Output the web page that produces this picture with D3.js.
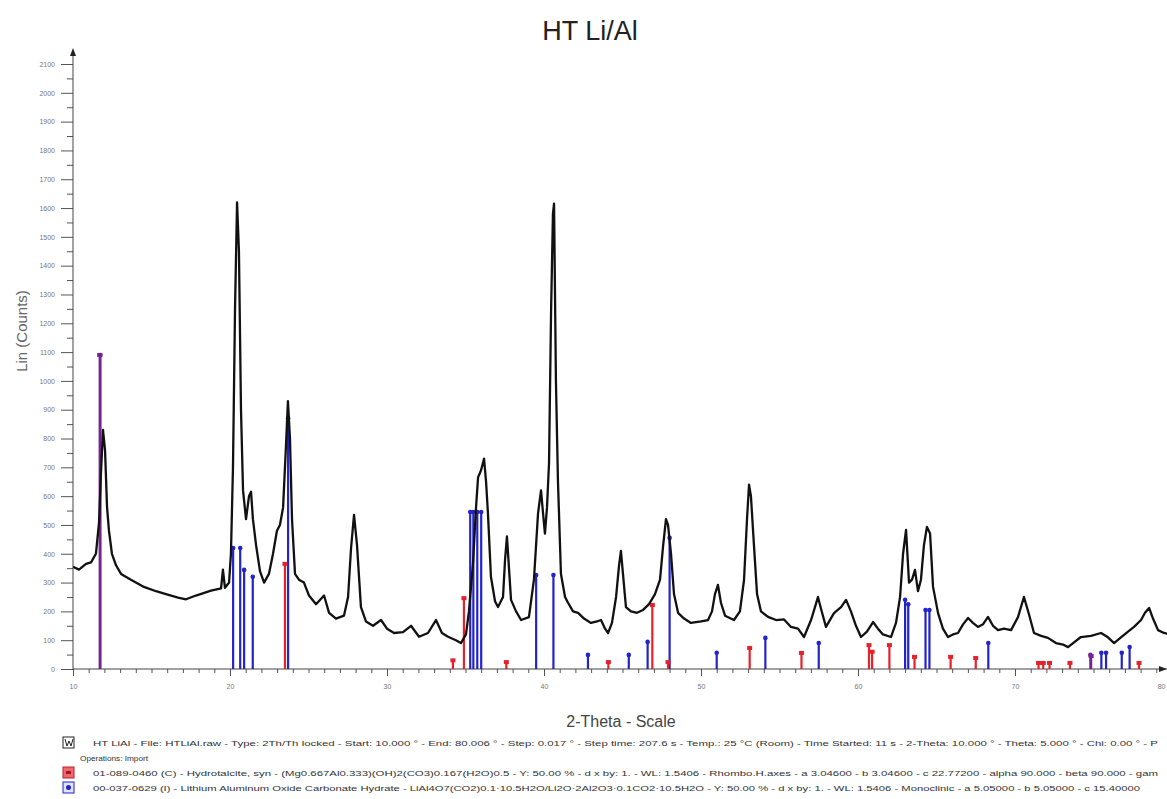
<!DOCTYPE html>
<html>
<head>
<meta charset="utf-8">
<script src="https://cdn.jsdelivr.net/npm/d3@7"></script>
<style>
  body { margin: 0; background: #fff; }
  svg { display: block; font-family: "Liberation Sans", Arial, sans-serif; }
</style>
</head>
<body>
<div id="xrd"></div>
<script>
// Measured pattern (2-theta in degrees, counts)
var twoTheta = [10.0,10.38,10.83,11.15,11.46,11.66,11.78,11.91,12.04,12.17,12.29,12.48,12.74,13.06,13.69,14.52,15.29,15.92,16.69,17.2,17.83,18.79,19.43,19.55,19.68,19.94,
  20.06,20.19,20.32,20.45,20.57,20.7,20.83,21.02,21.21,21.34,21.46,21.66,21.91,22.17,22.48,22.74,22.99,23.18,23.38,23.57,23.69,23.82,23.95,24.14,24.39,24.71,25.03,25.48,25.99,26.31,26.75,27.26,27.52,27.71,27.9,28.09,28.34,28.66,29.11,29.62,
  30.0,30.45,31.02,31.53,32.04,32.61,33.12,33.5,33.89,34.39,34.71,35.03,35.22,35.48,35.67,35.8,35.99,36.18,36.31,36.43,36.62,36.88,37.07,37.39,37.52,37.64,37.77,37.9,38.22,38.54,39.04,39.36,39.62,39.81,39.94,
  40.06,40.19,40.32,40.45,40.57,40.64,40.76,40.89,41.08,41.34,41.53,41.85,42.17,42.55,42.99,43.38,43.63,43.89,44.08,44.33,44.59,44.78,44.9,45.03,45.22,45.54,45.92,46.31,46.69,47.07,47.39,47.58,47.77,47.9,48.09,48.28,48.54,48.92,49.36,
  50.0,50.45,50.7,50.89,51.08,51.27,51.53,52.1,52.48,52.74,52.93,53.06,53.18,53.38,53.57,53.82,54.27,54.78,55.29,55.73,56.18,56.56,57.01,57.26,57.45,57.64,57.96,58.47,58.92,59.24,59.55,59.87,
  60.19,60.57,60.96,61.27,61.59,62.1,62.42,62.68,62.87,63.06,63.25,63.44,63.63,63.82,64.01,64.2,64.39,64.59,64.78,65.1,65.41,65.73,66.05,66.37,66.69,67.01,67.32,67.64,67.96,68.28,68.6,68.92,69.3,69.75,
  70.19,70.57,70.89,71.21,71.66,72.1,72.61,73.06,73.38,73.82,74.2,74.84,75.48,75.92,76.31,76.75,77.2,77.58,78.03,78.28,78.54,78.79,79.11,79.49,79.94];
var counts = [355,345,365,370,400,510,680,830,760,560,480,400,360,330,310,285,270,260,248,242,255,272,280,345,282,300,
  400,700,1250,1620,1450,900,620,520,600,615,520,430,340,300,330,400,480,500,560,780,930,800,520,330,310,300,255,225,255,195,175,185,250,420,535,430,215,165,150,170,
  140,125,128,150,112,125,170,125,112,100,90,120,200,370,560,665,690,730,650,540,320,235,215,250,380,460,350,240,200,170,180,310,540,620,540,
  470,560,715,1240,1580,1615,1000,650,330,250,230,200,195,175,160,165,170,140,125,160,250,360,410,330,215,200,195,205,225,260,310,424,520,500,400,260,195,175,160,
  165,170,200,260,292,230,185,170,200,309,520,640,600,424,260,200,181,170,172,146,140,111,170,215,250,210,146,194,215,240,200,150,
  111,130,163,140,120,111,160,250,400,483,300,310,344,270,310,430,493,470,285,194,140,111,120,125,155,177,160,146,155,181,150,135,140,135,
  180,250,190,125,115,108,90,85,76,95,111,115,125,110,90,110,130,146,170,195,212,175,135,125,120];

// Reference patterns (stick positions and relative heights in counts)
var hydroPos = [11.7,23.5,34.2,34.9,37.6,44.1,46.9,47.9,53.1,56.4,60.7,60.9,62.0,63.6,65.9,67.5,71.5,71.8,72.2,73.5,74.85,77.9];
var hydroCounts = [1090,365,30,246,24,24,222,24,73,56,83,60,83,42,42,38,21,21,21,21,45,21];
var liAlPos = [11.75,20.2,20.65,20.9,21.45,23.7,35.3,35.5,35.75,36.0,39.5,40.6,42.8,45.4,46.6,48.0,51.0,54.1,57.5,63.0,63.2,64.3,64.55,68.3,74.8,75.5,75.8,76.8,77.3];
var liAlCounts = [1090,420,420,344,320,870,545,545,545,545,326,326,49,49,94,455,56,108,90,240,225,205,205,90,49,56,56,56,76];

var yTicks = d3.range(0, 2101, 100);
var xTicks = [10, 20, 30, 40, 50, 60, 70, 80];

var legendLines = [
  "HT LiAl - File: HTLiAl.raw - Type: 2Th/Th locked - Start: 10.000 \u00b0 - End: 80.006 \u00b0 - Step: 0.017 \u00b0 - Step time: 207.6 s - Temp.: 25 \u00b0C (Room) - Time Started: 11 s - 2-Theta: 10.000 \u00b0 - Theta: 5.000 \u00b0 - Chi: 0.00 \u00b0 - P",
  "Operations: Import",
  "01-089-0460 (C) - Hydrotalcite, syn - (Mg0.667Al0.333)(OH)2(CO3)0.167(H2O)0.5 - Y: 50.00 % - d x by: 1. - WL: 1.5406 - Rhombo.H.axes - a 3.04600 - b 3.04600 - c 22.77200 - alpha 90.000 - beta 90.000 - gam",
  "00-037-0629 (I) - Lithium Aluminum Oxide Carbonate Hydrate - LiAl4O7(CO2)0.1\u00b710.5H2O/Li2O\u00b72Al2O3\u00b70.1CO2\u00b710.5H2O - Y: 50.00 % - d x by: 1. - WL: 1.5406 - Monoclinic - a 5.05000 - b 5.05000 - c 15.40000"
];

var W = 1167, H = 799;
var red = "#e3222b", blue = "#2323c8", mixed = "#74238f";

var svg = d3.select("#xrd").append("svg")
    .attr("width", W)
    .attr("height", H);

var x = d3.scaleLinear().domain([10, 80]).range([73, 1172]);
var y = d3.scaleLinear().domain([0, 2100]).range([669, 64]);

svg.append("clipPath").attr("id", "clip")
  .append("rect").attr("x", 73).attr("y", 40).attr("width", W - 73).attr("height", 630);

// Title and axis titles
svg.append("text")
    .attr("x", 590).attr("y", 40)
    .attr("text-anchor", "middle")
    .attr("font-size", 27)
    .attr("fill", "#222")
    .text("HT Li/Al");

svg.append("text")
    .attr("transform", "translate(27,331) rotate(-90)")
    .attr("text-anchor", "middle")
    .attr("font-size", 15)
    .attr("fill", "#666")
    .text("Lin (Counts)");

svg.append("text")
    .attr("x", 621).attr("y", 727)
    .attr("text-anchor", "middle")
    .attr("font-size", 16)
    .attr("fill", "#444")
    .text("2-Theta - Scale");

// Y axis, major + minor ticks
var yAxis = svg.append("g")
    .attr("transform", "translate(73,0)")
    .call(d3.axisLeft(y).tickValues(yTicks).tickSize(12).tickPadding(6).tickFormat(d3.format("d")));
yAxis.select(".domain").remove();
yAxis.selectAll("text").attr("font-size", 7).attr("fill", "#777");
yAxis.selectAll("line").attr("stroke", "#555");

var yMinor = svg.append("g")
    .attr("transform", "translate(73,0)")
    .call(d3.axisLeft(y).tickValues(d3.range(50, 2100, 100)).tickSize(6).tickFormat(""));
yMinor.select(".domain").remove();
yMinor.selectAll("line").attr("stroke", "#555");

// X axis, major + minor ticks
var xAxis = svg.append("g")
    .attr("transform", "translate(0,669)")
    .call(d3.axisBottom(x).tickValues(xTicks).tickSize(7).tickPadding(8));
xAxis.select(".domain").remove();
xAxis.selectAll("text").attr("font-size", 7).attr("fill", "#777");
// last label sits on the page edge, pull it inside
xAxis.selectAll("text").filter(function(d){ return d == 80; })
    .attr("text-anchor", "end").attr("x", -7);
xAxis.selectAll("line").attr("stroke", "#555");

var xMinor = svg.append("g")
    .attr("transform", "translate(0,669)")
    .call(d3.axisBottom(x).tickValues(d3.range(11, 80, 1).filter(function(d){ return d % 10 != 0; })).tickSize(4).tickFormat(""));
xMinor.select(".domain").remove();
xMinor.selectAll("line").attr("stroke", "#555");

// axis lines with arrows
svg.append("line").attr("x1", 73).attr("x2", 73).attr("y1", 669).attr("y2", 52).attr("stroke", "#444");
svg.append("path").attr("d", "M70,56 L73,48 L76,56 Z").attr("fill", "#222");
svg.append("line").attr("x1", 73).attr("x2", 1167).attr("y1", 669).attr("y2", 669).attr("stroke", "#444");
svg.append("path").attr("d", "M1159,666 L1167,669 L1159,672 Z").attr("fill", "#222");

// Sticks: colour purple where both phases share a reflection
function stickColor(p, others, base) {
  for (var i = 0; i < others.length; i++) {
    if (Math.abs(others[i] - p) < 0.1) return mixed;
  }
  return base;
}

function drawSticks(pos, cnt, others, base, shape) {
  var g = svg.append("g").attr("clip-path", "url(#clip)");
  var data = pos.map(function(p, i){ return { p: p, c: cnt[i], col: stickColor(p, others, base) }; });
  g.selectAll("line").data(data).enter().append("line")
      .attr("x1", function(d){ return x(d.p); })
      .attr("x2", function(d){ return x(d.p); })
      .attr("y1", y(0))
      .attr("y2", function(d){ return y(d.c); })
      .attr("stroke", function(d){ return d.col; })
      .attr("stroke-width", 2.2);
  if (shape == "square") {
    g.selectAll("rect").data(data).enter().append("rect")
        .attr("x", function(d){ return x(d.p) - 2.5; })
        .attr("y", function(d){ return y(d.c) - 2; })
        .attr("width", 5).attr("height", 4)
        .attr("fill", function(d){ return d.col; });
  } else {
    g.selectAll("circle").data(data).enter().append("circle")
        .attr("cx", function(d){ return x(d.p); })
        .attr("cy", function(d){ return y(d.c); })
        .attr("r", 2.3)
        .attr("fill", function(d){ return d.col; });
  }
}

// Measured pattern
var pattern = twoTheta.map(function(t, i){ return [t, counts[i]]; });
var line = d3.line()
    .x(function(d){ return x(d[0]); })
    .y(function(d){ return y(d[1]); });

drawSticks(liAlPos, liAlCounts, hydroPos, blue, "circle");
drawSticks(hydroPos, hydroCounts, liAlPos, red, "square");

svg.append("path")
    .datum(pattern)
    .attr("clip-path", "url(#clip)")
    .attr("d", line)
    .attr("fill", "none")
    .attr("stroke", "#111")
    .attr("stroke-width", 2.3)
    .attr("stroke-linejoin", "round");

// Legend
var legY = [743, 758, 773, 788];
var legX = [93, 80, 93, 93];
var legLen = [1065, 68, 1065, 1047];

legendLines.forEach(function(t, i) {
  svg.append("text")
      .attr("x", legX[i]).attr("y", legY[i] + 2.5)
      .attr("font-size", 7)
      .attr("fill", "#333")
      .attr("textLength", legLen[i])
      .attr("lengthAdjust", "spacingAndGlyphs")
      .text(t);
});

// legend icons
var ic = svg.append("g");
ic.append("rect").attr("x", 63).attr("y", 737).attr("width", 11).attr("height", 11)
    .attr("fill", "#fff").attr("stroke", "#222");
ic.append("path").attr("d", "M65,739 L67,746 L69,741 L71,746 L73,739").attr("fill", "none").attr("stroke", "#222");
ic.append("rect").attr("x", 63).attr("y", 767).attr("width", 11).attr("height", 11)
    .attr("fill", "#e86a70").attr("stroke", "#c0202a");
ic.append("rect").attr("x", 66).attr("y", 771).attr("width", 5).attr("height", 3).attr("fill", "#b01020");
ic.append("rect").attr("x", 63).attr("y", 782).attr("width", 11).attr("height", 11)
    .attr("fill", "#dfe3ff").attr("stroke", blue);
ic.append("circle").attr("cx", 68.5).attr("cy", 787.5).attr("r", 2.5).attr("fill", blue);
</script>
</body>
</html>
